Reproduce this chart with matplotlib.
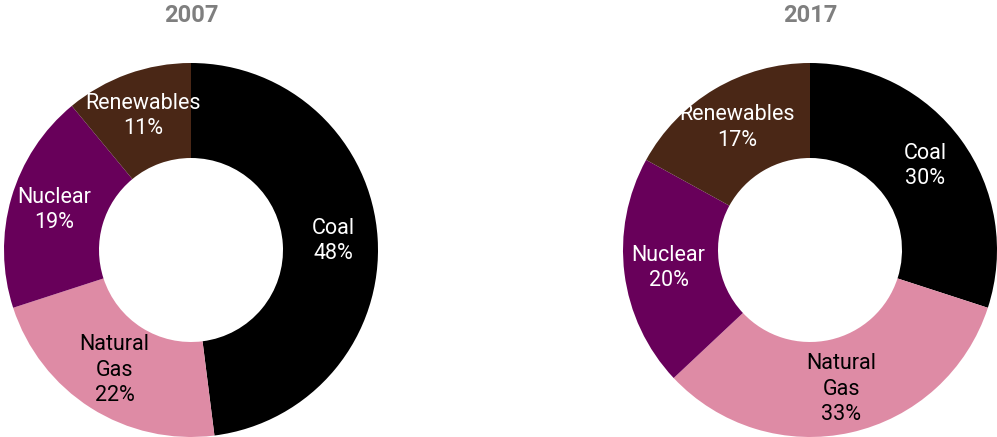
import matplotlib.pyplot as plt
import numpy as np

# Electricity generation mix, share of total (%)
sources = ["Coal", "Natural\nGas", "Nuclear", "Renewables"]
share_2007 = [48, 22, 19, 11]
share_2017 = [30, 33, 20, 17]
years = ["2007", "2017"]

colors = ["#000000", "#DE8BA5", "#68005A", "#4A2716"]
text_colors = ["white", "black", "white", "white"]

W, H = 997, 437
fig = plt.figure(figsize=(W / 100, H / 100), dpi=100)
ax = fig.add_axes([0, 0, 1, 1])

radius = 187
ring = 95
centers = [(191, H - 250), (810, H - 250)]

for year, shares, (cx, cy) in zip(years, [share_2007, share_2017], centers):
    wedges, _ = ax.pie(shares, colors=colors, startangle=90, counterclock=False,
                       center=(cx, cy), radius=radius, frame=True,
                       wedgeprops=dict(width=ring, edgecolor="none"))
    # label each wedge in the middle of the ring
    r_lab = radius - ring / 2 + 3
    for w, name, val, tc in zip(wedges, sources, shares, text_colors):
        ang = np.deg2rad((w.theta1 + w.theta2) / 2)
        x = cx + r_lab * np.cos(ang)
        y = cy + r_lab * np.sin(ang)
        ax.text(x, y, f"{name}\n{val}%", ha="center", va="center", color=tc,
                fontsize=15.5, family="Roboto", linespacing=1.28)
    ax.text(cx, H - 15, year, ha="center", va="center", color="#7F7F7F",
            fontsize=17, fontweight="bold", family="Roboto")

ax.set_xlim(0, W)
ax.set_ylim(0, H)
ax.set_aspect("equal")
ax.axis("off")

fig.savefig("out.png", dpi=100)
